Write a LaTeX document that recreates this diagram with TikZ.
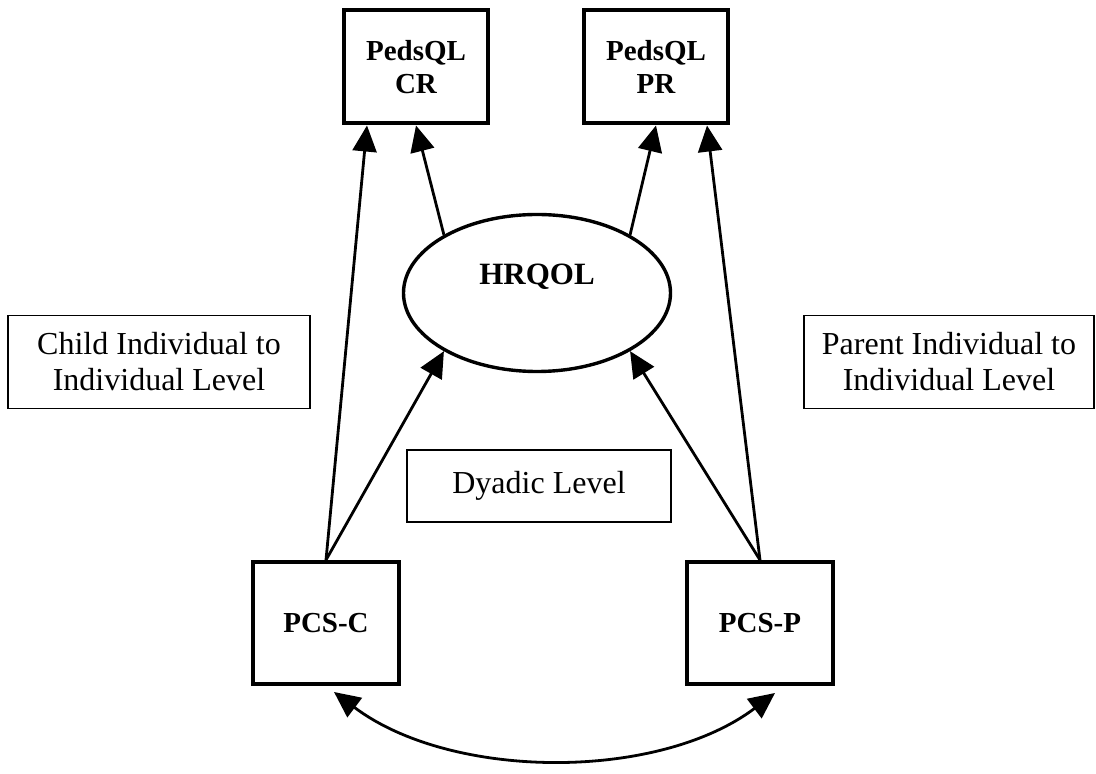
\documentclass[tikz,border=0pt]{standalone}
\usepackage{fontspec}
\setmainfont{Liberation Serif}
\usetikzlibrary{shapes.geometric,arrows.meta}

\begin{document}
\begin{tikzpicture}[x=1pt,y=1pt,>={Triangle[length=26pt,width=24pt]}]
\tikzstyle{measure}=[rectangle,draw,line width=4pt,minimum width=146pt,minimum height=122pt,align=center,font=\fontsize{29}{33}\selectfont\bfseries]
\tikzstyle{latent}=[ellipse,draw,line width=3.4pt,minimum width=267pt,minimum height=157pt]
\tikzstyle{leveltag}=[rectangle,draw,line width=1.3pt,align=center,font=\fontsize{32}{36}\selectfont]
\tikzstyle{effect}=[->,line width=2.8pt]
\useasboundingbox (0,0) rectangle (1096,774);

% measured and latent variables
\node[measure,minimum width=144pt,minimum height=113pt](CR) at (416,707) {PedsQL\\CR};
\node[measure,minimum width=144pt,minimum height=113pt](PR) at (656,707) {PedsQL\\PR};
\node[latent](HQ) at (537,481) {};
\node[font=\fontsize{31}{35}\selectfont\bfseries] (HQtext) at ([yshift=16pt]HQ.center) {HRQOL};
\node[measure](PCSC) at (326,151) {PCS-C};
\node[measure](PCSP) at (760,151) {PCS-P};

% level labels
\node[leveltag,minimum width=302pt,minimum height=93pt](CI) at (159,412) {Child Individual to\\Individual Level};
\node[leveltag,minimum width=290pt,minimum height=93pt](PI) at (949,412) {Parent Individual to\\Individual Level};
\node[leveltag,minimum width=264pt,minimum height=72pt](DY) at (539,288) {Dyadic Level};

% paths
\draw[effect] (PCSC.north) -- ([xshift=-49pt]CR.south);
\draw[effect] (PCSC.north) -- (HQ.212);
\draw[effect] (HQ.148) -- (CR.south);
\draw[effect] (HQ.32) -- (PR.south);
\draw[effect] (PCSP.north) -- ([xshift=51pt]PR.south);
\draw[effect] (PCSP.north) -- (HQ.-32);
\draw[<->,line width=2.8pt] ([xshift=8pt,yshift=-6pt]PCSC.south) to[out=-37,in=-143,looseness=0.85] ([xshift=15pt,yshift=-7pt]PCSP.south);
\end{tikzpicture}
\end{document}
